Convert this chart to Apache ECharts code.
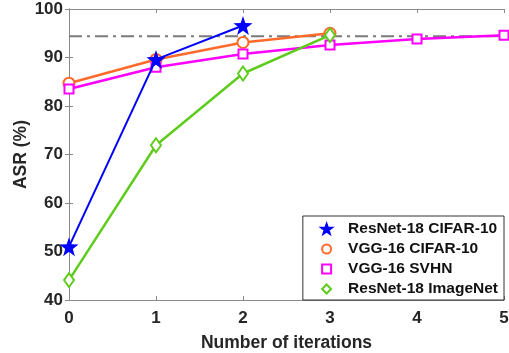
<!DOCTYPE html>
<html><head><meta charset="utf-8">
<script src="https://cdn.jsdelivr.net/npm/echarts@6/dist/echarts.min.js"></script>
<style>html,body{margin:0;padding:0;background:#fff}#c{width:509px;height:353px}</style>
</head><body><div id="c"></div>
<script>
var iterations = [0, 1, 2, 3, 4, 5];
var seriesNames = ['ResNet-18 CIFAR-10', 'VGG-16 CIFAR-10', 'VGG-16 SVHN', 'ResNet-18 ImageNet'];
var resnet18Cifar = [51.0, 89.6, 96.6];
var vgg16Cifar = [84.7, 89.6, 93.1, 95.0];
var vgg16Svhn = [83.5, 88.0, 90.7, 92.6, 93.8, 94.6];
var resnet18ImageNet = [44.1, 71.9, 86.7, 94.6];
var referenceLevel = 94.4;
var yTicks = [40, 50, 60, 70, 80, 90, 100];

var STAR = 'path://M0,-10 L2.35,-3.24 9.51,-3.09 3.8,1.24 5.88,8.09 0,4 -5.88,8.09 -3.8,1.24 -9.51,-3.09 -2.35,-3.24Z';
function pts(arr){ return arr.map(function(v,i){ return [iterations[i], v]; }); }
var F = 'Liberation Sans, Arial, sans-serif';
var axisGray = '#8a8a8a';
var txt = '#262626';

var chart = echarts.init(document.getElementById('c'), null, {renderer:'canvas'});
var xBase = {type:'value', min:0, max:5, interval:1,
  axisLine:{show:true, lineStyle:{color:axisGray, width:1}},
  axisTick:{show:true, inside:true, length:4, lineStyle:{color:axisGray}},
  splitLine:{show:false}};
var yBase = {type:'value', min:yTicks[0], max:yTicks[yTicks.length-1], interval:10,
  axisLine:{show:true, lineStyle:{color:axisGray, width:1}},
  axisTick:{show:true, inside:true, length:4, lineStyle:{color:axisGray}},
  splitLine:{show:false}};

chart.setOption({
  animation:false,
  grid:{left:69, right:5, top:9, bottom:53, containLabel:false, outerBoundsMode:'none'},
  xAxis:[
    Object.assign({}, xBase, {position:'bottom', name:'Number of iterations', nameLocation:'middle', nameGap:34,
      nameMoveOverlap:false,
      nameTextStyle:{fontFamily:F, fontWeight:'bold', fontSize:17.5, color:txt},
      axisLabel:{fontFamily:F, fontWeight:'bold', fontSize:17, color:txt, margin:10}}),
    Object.assign({}, xBase, {position:'top', axisLabel:{show:false}})
  ],
  yAxis:[
    Object.assign({}, yBase, {position:'left', name:'ASR (%)', nameLocation:'middle', nameGap:39, nameRotate:90,
      nameMoveOverlap:false,
      nameTextStyle:{fontFamily:F, fontWeight:'bold', fontSize:17.5, color:txt},
      axisLabel:{fontFamily:F, fontWeight:'bold', fontSize:17, color:txt, margin:6}}),
    Object.assign({}, yBase, {position:'right', axisLabel:{show:false}})
  ],
  legend:{
    orient:'vertical', right:5, bottom:53,
    backgroundColor:'#fff', borderColor:'#333', borderWidth:1,
    padding:[4,6,2,18], itemGap:2, itemWidth:9, itemHeight:9,
    textStyle:{fontFamily:F, fontWeight:'bold', fontSize:15.5, color:'#111', padding:[0,0,0,12], lineHeight:18},
    data:[
      {name:seriesNames[0], icon:STAR, itemStyle:{borderWidth:2.5, borderColor:'#0000ff'}},
      {name:seriesNames[1], icon:'emptyCircle', itemStyle:{borderWidth:2.5}},
      {name:seriesNames[2], icon:'emptyRect', itemStyle:{borderWidth:2}},
      {name:seriesNames[3], icon:'emptyDiamond', itemStyle:{borderWidth:2.5}}
    ]
  },
  series:[
    {type:'line', name:'ref', data:[[0,referenceLevel],[5,referenceLevel]], symbol:'none', silent:true,
      lineStyle:{color:'#7a7a7a', width:2, type:[13,5,3,5]}, z:1},
    {type:'line', name:seriesNames[0], data:pts(resnet18Cifar), symbol:STAR, symbolSize:19,
      lineStyle:{color:'#0000ff', width:2}, itemStyle:{color:'#0000ff'}, z:5},
    {type:'line', name:seriesNames[1], data:pts(vgg16Cifar), symbol:'emptyCircle', symbolSize:11,
      lineStyle:{color:'#ff6a2b', width:2.5}, itemStyle:{color:'#ff6a2b', borderWidth:2.5}, z:3},
    {type:'line', name:seriesNames[2], data:pts(vgg16Svhn), symbol:'emptyRect', symbolSize:9,
      lineStyle:{color:'#ff00ff', width:2.5}, itemStyle:{color:'#ff00ff', borderWidth:2}, z:4},
    {type:'line', name:seriesNames[3], data:pts(resnet18ImageNet), symbol:'emptyDiamond', symbolSize:[10,14],
      lineStyle:{color:'#5ecc1c', width:2.5}, itemStyle:{color:'#5ecc1c', borderWidth:2.5}, z:6}
  ]
});
</script></body></html>
